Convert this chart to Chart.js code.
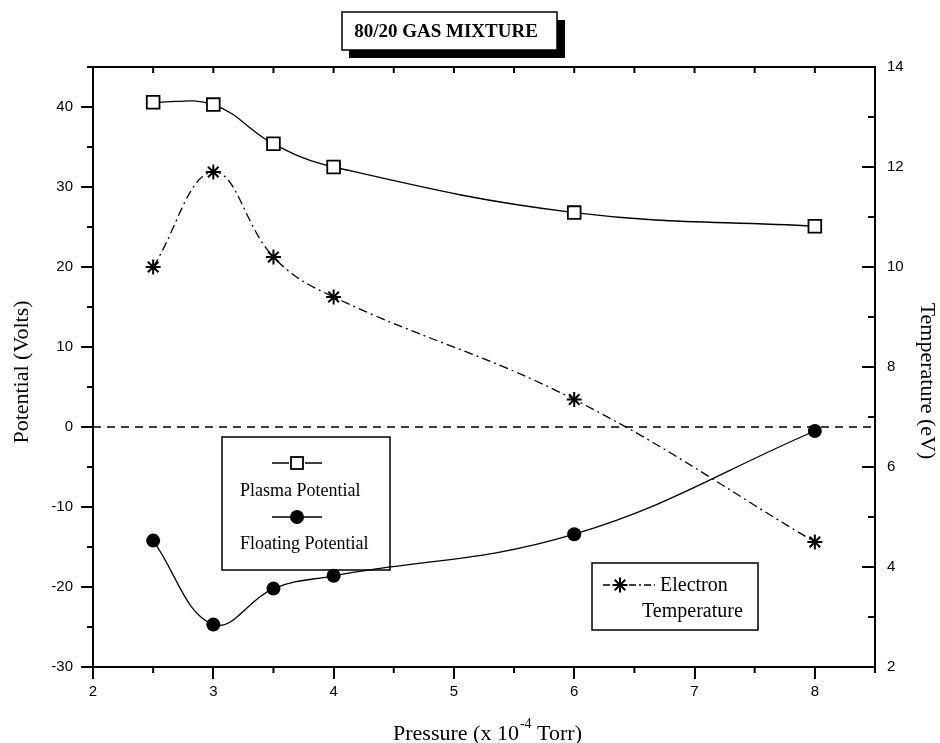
<!DOCTYPE html>
<html>
<head>
<meta charset="utf-8">
<script src="https://cdn.jsdelivr.net/npm/chart.js@4"></script>
<style>
  html, body { margin: 0; padding: 0; background: #fff; }
  #wrap { width: 940px; height: 743px; position: relative; }
</style>
</head>
<body>
<div id="wrap"><canvas id="mainChart" width="940" height="743"></canvas></div>
<script>
// ── Data ───────────────────────────────────────────────────
const pressure    = [2.5, 3, 3.5, 4, 6, 8];              // x 10^-4 Torr
const plasmaPot   = [40.6, 40.3, 35.4, 32.5, 26.8, 25.1]; // Volts
const floatingPot = [-14.2, -24.7, -20.2, -18.6, -13.4, -0.5];
const electronT   = [10.0, 11.9, 10.2, 9.4, 7.35, 4.5];   // eV (right axis)
const zeroLineX   = [2, 8.5];
const zeroLineY   = [0, 0];

const xTicks  = [2, 3, 4, 5, 6, 7, 8];
const yTicks  = [-30, -20, -10, 0, 10, 20, 30, 40];
const y1Ticks = [2, 4, 6, 8, 10, 12, 14];

const SERIF = '"Liberation Serif", "Times New Roman", serif';
const SANS  = '"Liberation Sans", Arial, sans-serif';

const toPts = (xs, ys) => xs.map((x, i) => ({ x: x, y: ys[i] }));
const keepTicks = list => scale => { scale.ticks = list.map(v => ({ value: v })); };

// ── Extra drawing: frame, minor ticks, title, legends ──────
const decorPlugin = {
  id: 'decor',
  beforeDraw(chart) {
    const ctx = chart.ctx;
    ctx.save();
    ctx.fillStyle = '#fff';
    ctx.fillRect(0, 0, chart.width, chart.height);
    ctx.restore();
  },
  afterDraw(chart) {
    const ctx = chart.ctx;
    const a   = chart.chartArea;
    const sx  = chart.scales.x, sy = chart.scales.y, sy1 = chart.scales.y1;
    ctx.save();
    ctx.strokeStyle = '#000';
    ctx.fillStyle = '#000';

    // frame
    ctx.lineWidth = 2;
    ctx.strokeRect(a.left, a.top, a.right - a.left, a.bottom - a.top);

    // left minor ticks (outward)
    ctx.beginPath();
    for (let v = -25; v <= 45; v += 10) {
      const p = sy.getPixelForValue(v);
      ctx.moveTo(a.left, p); ctx.lineTo(a.left - 6, p);
    }
    // bottom minor ticks (outward) and top ticks (inward)
    for (let v = 2.5; v <= 8.5; v += 1) {
      const p = sx.getPixelForValue(v);
      ctx.moveTo(p, a.bottom); ctx.lineTo(p, a.bottom + 6);
    }
    for (let v = 2.5; v < 8.5; v += 0.5) {
      const p = sx.getPixelForValue(v);
      ctx.moveTo(p, a.top); ctx.lineTo(p, a.top + 6);
    }
    // right ticks (inward)
    for (let v = 3; v < 14; v += 1) {
      const p = sy1.getPixelForValue(v);
      const len = (v % 2 === 0) ? 13 : 7;
      ctx.moveTo(a.right, p); ctx.lineTo(a.right - len, p);
    }
    ctx.stroke();

    // title box with shadow
    ctx.fillRect(349, 20, 216, 38);
    ctx.fillStyle = '#fff';
    ctx.fillRect(342, 12, 215, 38);
    ctx.lineWidth = 1.5;
    ctx.strokeRect(342, 12, 215, 38);
    ctx.fillStyle = '#000';
    ctx.font = 'bold 19px ' + SERIF;
    ctx.textAlign = 'center';
    ctx.textBaseline = 'middle';
    ctx.fillText('80/20 GAS MIXTURE', 446, 32);

    // axis titles
    ctx.font = '22px ' + SERIF;
    ctx.save();
    ctx.translate(22, 372);
    ctx.rotate(-Math.PI / 2);
    ctx.fillText('Potential (Volts)', 0, 0);
    ctx.restore();

    ctx.save();
    ctx.translate(927, 381);
    ctx.rotate(Math.PI / 2);
    ctx.fillText('Temperature (eV)', 0, 0);
    ctx.restore();

    // x title with superscript
    const t1 = 'Pressure (x 10', sup = '-4', t2 = ' Torr)';
    ctx.textAlign = 'left';
    ctx.textBaseline = 'alphabetic';
    ctx.font = '22px ' + SERIF;
    const w1 = ctx.measureText(t1).width, w3 = ctx.measureText(t2).width;
    ctx.font = '14px ' + SERIF;
    const w2 = ctx.measureText(sup).width;
    let x0 = 487 - (w1 + w2 + w3) / 2;
    ctx.font = '22px ' + SERIF;
    ctx.fillText(t1, x0, 740);
    ctx.font = '14px ' + SERIF;
    ctx.fillText(sup, x0 + w1 + 1, 728);
    ctx.font = '22px ' + SERIF;
    ctx.fillText(t2, x0 + w1 + w2 + 1, 740);
    ctx.textBaseline = 'middle';

    // legend box 1
    ctx.lineWidth = 1.5;
    ctx.strokeRect(222, 437, 168, 133);
    ctx.lineWidth = 1.3;
    ctx.beginPath();
    ctx.moveTo(272, 463); ctx.lineTo(289, 463);
    ctx.moveTo(305, 463); ctx.lineTo(322, 463);
    ctx.moveTo(272, 517); ctx.lineTo(322, 517);
    ctx.stroke();
    ctx.lineWidth = 1.8;
    ctx.fillStyle = '#fff';
    ctx.fillRect(291, 457, 12, 12);
    ctx.strokeRect(291, 457, 12, 12);
    ctx.fillStyle = '#000';
    ctx.beginPath();
    ctx.arc(297, 517, 7, 0, Math.PI * 2);
    ctx.fill();
    ctx.font = '18px ' + SERIF;
    ctx.fillText('Plasma Potential', 240, 491);
    ctx.fillText('Floating Potential', 240, 544);

    // legend box 2
    ctx.lineWidth = 1.5;
    ctx.strokeRect(592, 563, 166, 67);
    ctx.lineWidth = 1.3;
    ctx.setLineDash([7, 3, 2, 3]);
    ctx.beginPath();
    ctx.moveTo(603, 585); ctx.lineTo(612, 585);
    ctx.moveTo(629, 585); ctx.lineTo(655, 585);
    ctx.stroke();
    ctx.setLineDash([]);
    ctx.lineWidth = 2;
    ctx.beginPath();
    const r = 7.5;
    for (let k = 0; k < 4; k++) {
      const ang = k * Math.PI / 4;
      ctx.moveTo(620 - r * Math.sin(ang), 585 - r * Math.cos(ang));
      ctx.lineTo(620 + r * Math.sin(ang), 585 + r * Math.cos(ang));
    }
    ctx.stroke();
    ctx.font = '20px ' + SERIF;
    ctx.fillText('Electron', 660, 586);
    ctx.fillText('Temperature', 642, 612);

    ctx.restore();
  }
};

const ctx = document.getElementById('mainChart').getContext('2d');
const mainChart = new Chart(ctx, {
  type: 'line',
  data: {
    datasets: [
      {
        label: 'Plasma Potential',
        data: toPts(pressure, plasmaPot),
        yAxisID: 'y',
        borderColor: '#000',
        borderWidth: 1.3,
        tension: 0.4,
        pointStyle: 'rect',
        pointRadius: 9,
        pointBorderWidth: 1.8,
        pointBackgroundColor: '#fff',
        pointBorderColor: '#000'
      },
      {
        label: 'Floating Potential',
        data: toPts(pressure, floatingPot),
        yAxisID: 'y',
        borderColor: '#000',
        borderWidth: 1.3,
        tension: 0.4,
        pointStyle: 'circle',
        pointRadius: 7,
        pointBorderWidth: 0,
        pointBackgroundColor: '#000'
      },
      {
        label: 'Electron Temperature',
        data: toPts(pressure, electronT),
        yAxisID: 'y1',
        borderColor: '#000',
        borderWidth: 1.3,
        borderDash: [9, 4, 2, 4],
        tension: 0.4,
        pointStyle: 'star',
        pointRadius: 7.5,
        pointBorderWidth: 2,
        pointBorderColor: '#000'
      },
      {
        label: 'zero',
        data: toPts(zeroLineX, zeroLineY),
        yAxisID: 'y',
        borderColor: '#000',
        borderWidth: 1.5,
        borderDash: [8, 6],
        pointRadius: 0
      }
    ]
  },
  options: {
    responsive: false,
    animation: false,
    layout: { padding: { top: 67, left: 0, right: 0, bottom: 0 } },
    plugins: { legend: { display: false }, tooltip: { enabled: false } },
    scales: {
      x: {
        type: 'linear',
        min: 2, max: 8.5,
        afterBuildTicks: keepTicks(xTicks),
        afterFit: s => { s.height = 76; },
        border: { display: true, color: '#000', width: 2 },
        grid: { drawOnChartArea: false, drawTicks: true, tickLength: 12, color: '#000', lineWidth: 2 },
        ticks: { color: '#000', font: { family: SANS, size: 15 }, padding: 4, maxRotation: 0 }
      },
      y: {
        position: 'left',
        min: -30, max: 45,
        afterBuildTicks: keepTicks(yTicks),
        afterFit: s => { s.width = 93; },
        border: { display: true, color: '#000', width: 2 },
        grid: { drawOnChartArea: false, drawTicks: true, tickLength: 12, color: '#000', lineWidth: 2 },
        ticks: { color: '#000', font: { family: SANS, size: 15 }, padding: 8 }
      },
      y1: {
        position: 'right',
        min: 2, max: 14,
        afterBuildTicks: keepTicks(y1Ticks),
        afterFit: s => { s.width = 65; },
        border: { display: true, color: '#000', width: 2 },
        grid: { display: false, drawOnChartArea: false, drawTicks: false },
        ticks: { color: '#000', font: { family: SANS, size: 15 }, padding: 12 }
      }
    }
  },
  plugins: [decorPlugin]
});
</script>
</body>
</html>
